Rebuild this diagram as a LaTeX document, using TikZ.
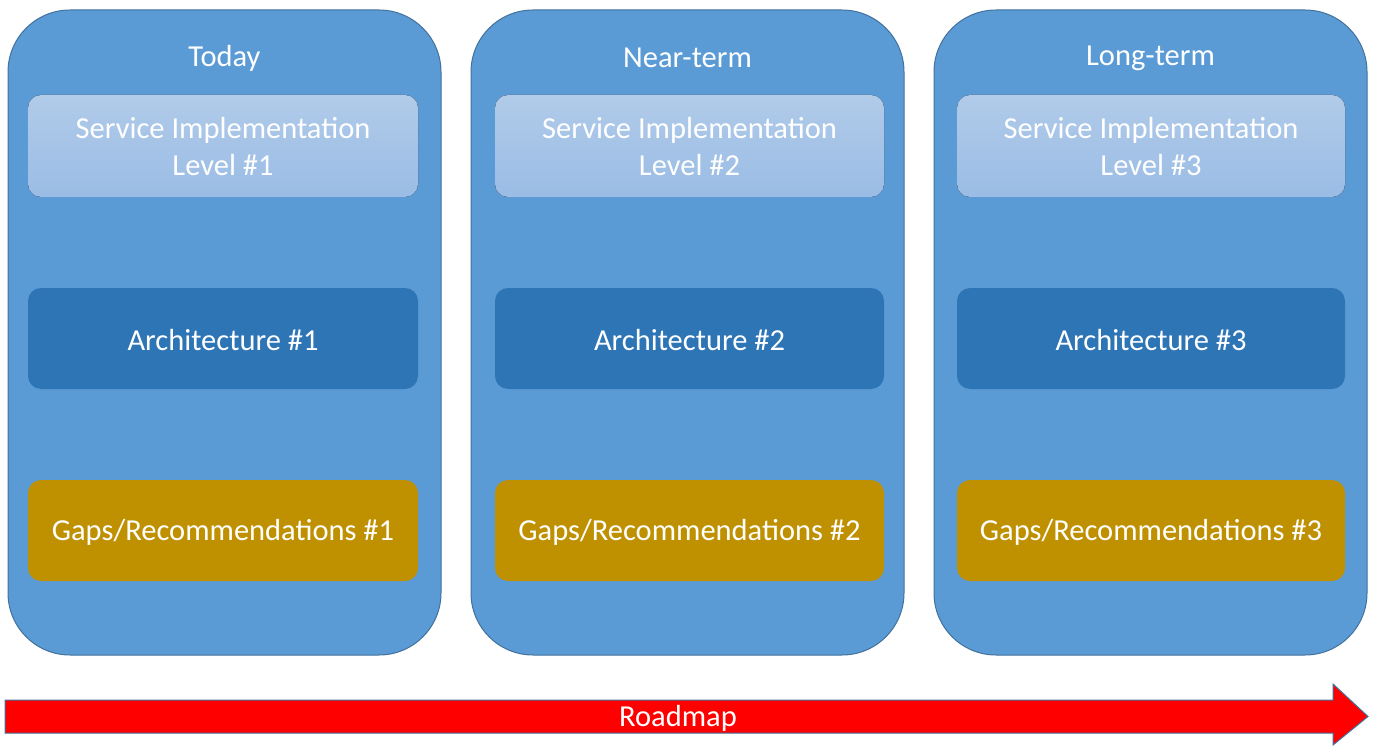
\documentclass[tikz,border=0pt]{standalone}
\usepackage{fontspec}
\setmainfont{Carlito}
\definecolor{colfill}{HTML}{5B9BD5}
\definecolor{colline}{HTML}{41719C}
\definecolor{svctop}{HTML}{B1CBE9}
\definecolor{svcbot}{HTML}{9ABCE5}
\definecolor{archfill}{HTML}{2E75B6}
\definecolor{gapfill}{HTML}{BF9000}
\tikzset{
  column/.style={fill=colfill, draw=colline, line width=1pt, rounded corners=62pt},
  svcbox/.style={rounded corners=13pt, top color=svctop, bottom color=svcbot, draw=none},
  archbox/.style={rounded corners=13pt, fill=archfill, draw=none},
  gapbox/.style={rounded corners=13pt, fill=gapfill, draw=none},
  lbl/.style={text=white, font=\fontsize{30.5}{37}\selectfont, align=center, inner sep=0pt},
}
\begin{document}
\begin{tikzpicture}[x=1pt,y=-1pt]
\useasboundingbox (0,0) rectangle (1373,746);
% columns
\foreach \i/\xl/\xr/\sl/\sr/\t/\n in {1/8/441/28/418/Today/1, 2/471/904/495/884/Near-term/2, 3/934/1367/957/1345/Long-term/3}{
  \draw[column] (\xl,10) rectangle (\xr,655);
  \node[lbl] (title\i) at ({(\xl+\xr)/2},58) {\t};
  \fill[svcbox] (\sl,95) rectangle (\sr,197);
  \node[lbl] (svc\i) at ({(\sl+\sr)/2},147) {Service Implementation\\Level \#\n};
  \fill[archbox] (\sl,288) rectangle (\sr,389);
  \node[lbl] (arch\i) at ({(\sl+\sr)/2},340) {Architecture \#\n};
  \fill[gapbox] (\sl,480) rectangle (\sr,581);
  \node[lbl] (gap\i) at ({(\sl+\sr)/2},532) {Gaps/Recommendations \#\n};
}
% roadmap arrow
\draw[fill=red, draw=colline, line width=1pt, line join=miter]
  (5,700) -- (1333,700) -- (1333,684) -- (1368,716.5) -- (1333,745) -- (1333,733) -- (5,733) -- cycle;
\node[lbl, font=\fontsize{30.5}{37}\selectfont] (road) at (678,718) {Roadmap};
\end{tikzpicture}
\end{document}
